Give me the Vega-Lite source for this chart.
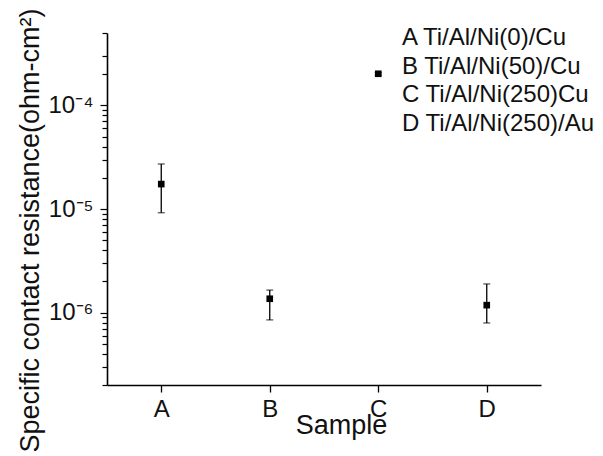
{
  "$schema": "https://vega.github.io/schema/vega-lite/v6.json",
  "width": 434,
  "height": 352,
  "autosize": {"type": "none"},
  "padding": {"left": 107, "top": 33, "right": 62, "bottom": 71},
  "background": "white",
  "config": {"view": {"stroke": null}, "font": "Liberation Sans"},
  "data": {
    "values": [
      {"sample": "A", "desc": "A Ti/Al/Ni(0)/Cu", "val": 1.74e-5, "lo": 9.2e-6, "hi": 2.72e-5},
      {"sample": "B", "desc": "B Ti/Al/Ni(50)/Cu", "val": 1.36e-6, "lo": 8.5e-7, "hi": 1.65e-6},
      {"sample": "C", "desc": "C Ti/Al/Ni(250)Cu", "val": 2.02e-4, "lo": 1.96e-4, "hi": 2.08e-4},
      {"sample": "D", "desc": "D Ti/Al/Ni(250)/Au", "val": 1.18e-6, "lo": 7.94e-7, "hi": 1.89e-6}
    ]
  },
  "encoding": {
    "x": {
      "field": "sample",
      "type": "nominal",
      "scale": {"type": "point", "padding": 0.5},
      "axis": {
        "labelAngle": 0,
        "labelFontSize": 24,
        "labelColor": "#111",
        "labelBaseline": "alphabetic",
        "labelPadding": 24,
        "tickSize": 7,
        "tickColor": "black",
        "tickWidth": 1.3,
        "domainColor": "black",
        "domainWidth": 1.6,
        "grid": false,
        "title": "Sample",
        "titleFontSize": 27,
        "titleFontWeight": "normal",
        "titleColor": "#111",
        "titleBaseline": "alphabetic",
        "titleX": 234,
        "titleY": 48
      }
    }
  },
  "layer": [
    {
      "mark": {"type": "rule", "color": "black", "strokeWidth": 1.3},
      "encoding": {
        "y": {
          "field": "lo",
          "type": "quantitative",
          "scale": {"type": "log", "domain": [2e-7, 5e-4], "nice": false},
          "axis": {
            "values": [2e-7, 3e-7, 4e-7, 5e-7, 6e-7, 7e-7, 8e-7, 9e-7, 1e-6, 2e-6, 3e-6, 4e-6, 5e-6, 6e-6, 7e-6, 8e-6, 9e-6, 1e-5, 2e-5, 3e-5, 4e-5, 5e-5, 6e-5, 7e-5, 8e-5, 9e-5, 1e-4, 2e-4, 3e-4, 5e-4],
            "labelExpr": "abs(datum.value-1e-4)<1e-9 ? '10⁻⁴' : abs(datum.value-1e-5)<1e-10 ? '10⁻⁵' : abs(datum.value-1e-6)<1e-11 ? '10⁻⁶' : ''",
            "labelOverlap": false,
            "labelFontSize": 24,
            "labelColor": "#111",
            "labelPadding": 7,
            "tickColor": "black",
            "tickWidth": 1.2,
            "tickSize": {"condition": {"test": "abs(datum.value-1e-4)<1e-9 || abs(datum.value-1e-5)<1e-10 || abs(datum.value-1e-6)<1e-11", "value": 7}, "value": 5},
            "domainColor": "black",
            "domainWidth": 1.6,
            "grid": false,
            "title": "Specific contact resistance(ohm-cm²)",
            "titleFontSize": 27,
            "titleFontWeight": "normal",
            "titleColor": "#111",
            "titleBaseline": "alphabetic",
            "titleAlign": "center",
            "titleX": -69,
            "titleY": 197
          }
        },
        "y2": {"field": "hi"}
      }
    },
    {
      "mark": {"type": "tick", "color": "black", "size": 7, "thickness": 1.2},
      "encoding": {"y": {"field": "lo", "type": "quantitative"}}
    },
    {
      "mark": {"type": "tick", "color": "black", "size": 7, "thickness": 1.2},
      "encoding": {"y": {"field": "hi", "type": "quantitative"}}
    },
    {
      "mark": {"type": "square", "size": 44, "opacity": 1, "filled": true},
      "encoding": {
        "y": {"field": "val", "type": "quantitative"},
        "color": {
          "field": "desc",
          "type": "nominal",
          "scale": {"range": ["black", "black", "black", "black"]},
          "legend": {
            "title": null,
            "orient": "none",
            "legendX": 271,
            "legendY": -7,
            "padding": 0,
            "symbolSize": 0,
            "symbolOpacity": 0,
            "symbolStrokeWidth": 0,
            "labelOffset": 0,
            "labelFontSize": 24,
            "labelColor": "#111",
            "labelLimit": 400,
            "rowPadding": 4.5
          }
        }
      }
    }
  ]
}
